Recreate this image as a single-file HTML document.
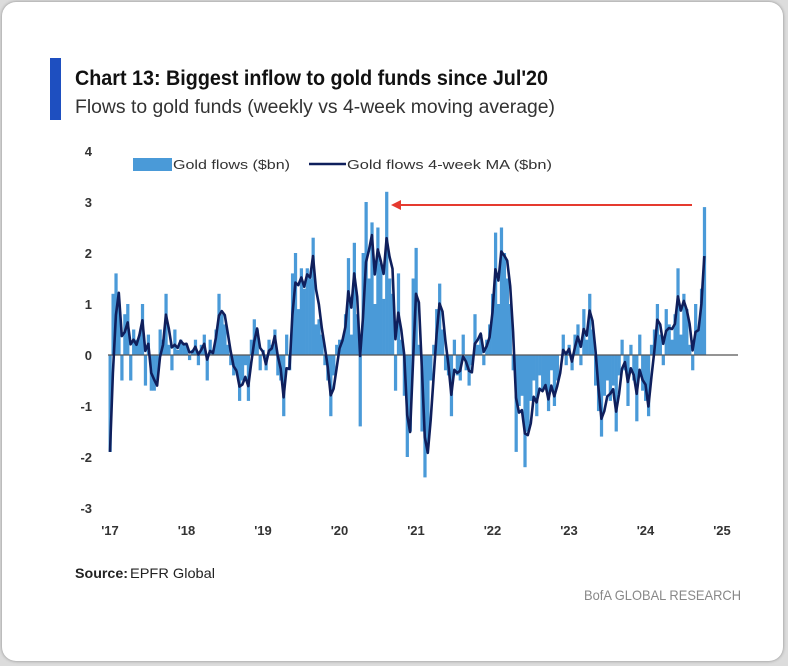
<!DOCTYPE html>
<html><head><meta charset="utf-8">
<style>
html,body{margin:0;padding:0;background:#dcdcdc;}
body{width:788px;height:666px;position:relative;overflow:hidden;font-family:"Liberation Sans",sans-serif;}
#card{position:absolute;left:2px;top:2px;width:781px;height:659px;background:#fff;border-radius:14px;box-shadow:0 0 3px #888;}
svg{position:absolute;left:0;top:0;}
</style></head>
<body>
<div id="card"></div>
<svg id="chart" width="788" height="666">
  <rect x="50" y="58" width="11" height="62" fill="#1e4fc0"/>
  <text x="75" y="85" font-size="21" font-weight="bold" fill="#111" textLength="473" lengthAdjust="spacingAndGlyphs">Chart 13: Biggest inflow to gold funds since Jul'20</text>
  <text x="75" y="113" font-size="19" fill="#333" textLength="480" lengthAdjust="spacingAndGlyphs">Flows to gold funds (weekly vs 4-week moving average)</text>
  <rect x="133" y="158" width="39" height="13" fill="#4a9ad8"/>
  <text x="173" y="169" font-size="13" fill="#333" textLength="117" lengthAdjust="spacingAndGlyphs">Gold flows ($bn)</text>
  <line x1="309" y1="164" x2="346" y2="164" stroke="#0f1f5c" stroke-width="2.5"/>
  <text x="347" y="169" font-size="13" fill="#333" textLength="205" lengthAdjust="spacingAndGlyphs">Gold flows 4-week MA ($bn)</text>
  <g id="yaxis"></g>
  <g id="xaxis"></g>
  <g id="bars"></g>
  <line id="zero" stroke="#555" stroke-width="1.3"/>
  <path id="maLine" fill="none" stroke="#0f1f5c" stroke-width="2.6" stroke-linejoin="round"/>
  <line x1="692" y1="205" x2="398" y2="205" stroke="#e53a2f" stroke-width="2"/>
  <polygon points="391,205 401,200 401,210" fill="#e53a2f"/>
  <text x="75" y="578" font-size="14" fill="#222"><tspan font-weight="bold" textLength="53" lengthAdjust="spacingAndGlyphs">Source:</tspan><tspan dx="2" textLength="85" lengthAdjust="spacingAndGlyphs">EPFR Global</tspan></text>
  <text x="741" y="600" font-size="14" fill="#888" text-anchor="end" textLength="157" lengthAdjust="spacingAndGlyphs">BofA GLOBAL RESEARCH</text>
</svg>
<script>
const yTicks = [4,3,2,1,0,-1,-2,-3];
const yTickLabels = ["4","3","2","1","0","-1","-2","-3"];
const xTickYears = [2017,2018,2019,2020,2021,2022,2023,2024,2025];
const xTickLabels = ["'17","'18","'19","'20","'21","'22","'23","'24","'25"];
const flows2017 = [-1.9,1.2,1.6,1.0,-0.5,0.8,1.0,-0.5,0.5,0.3,0.4,1.0,-0.6,0.4,-0.7,-0.7,-0.5,0.5,0.3,1.2,0.2,-0.3,0.5,0.1,0.3,0.2];
const flows2018 = [0.2,-0.1,0.1,0.3,-0.2,0.2,0.4,-0.5,0.3,0.1,0.5,1.2,0.8,0.6,0.2,-0.2,-0.4,-0.3,-0.9,-0.5,-0.2,-0.9,0.3,0.7,0.5,-0.3];
const flows2019 = [0.1,-0.3,0.3,0.2,0.5,-0.4,-0.5,-1.2,0.4,-0.3,1.6,2.0,0.9,1.7,1.3,1.7,1.5,2.3,0.6,0.7,0.4,-0.2,-0.5,-1.2,-0.4,0.2];
const flows2020 = [0.3,0.3,0.8,1.9,0.4,2.2,0.8,-1.4,2.0,3.0,1.5,2.6,1.0,2.5,1.8,1.1,3.2,1.5,1.2,-0.7,1.6,0.3,-0.8,-2.0,-1.5,1.5];
const flows2021 = [2.1,0.2,-1.5,-2.4,-1.8,-0.5,0.2,0.9,1.4,0.5,-0.3,-0.4,-1.2,0.3,-0.4,-0.5,0.4,-0.3,-0.6,-0.2,0.8,0.2,0.4,-0.2,0.3,0.6];
const flows2022 = [1.2,2.4,1.0,2.5,2.0,1.5,1.0,-0.3,-1.9,-1.0,-0.8,-2.2,-1.5,-0.9,-0.5,-1.2,-0.4,-0.7,-0.6,-1.1,-0.3,-1.0,-0.5,0.0,0.4,-0.2];
const flows2023 = [0.2,-0.3,0.4,0.6,-0.2,0.9,0.3,1.2,0.5,-0.6,-1.1,-1.6,-0.8,-0.5,-0.9,-0.6,-1.5,-0.4,0.3,-0.3,-1.0,0.2,-0.5,-1.3,0.4,-0.7];
const flows2024 = [-0.9,-1.2,0.2,0.5,1.0,0.4,-0.2,0.9,0.6,0.3,0.8,1.7,0.4,1.2,0.9,0.2,-0.3,1.0,0.5,1.3,2.9];

const NS="http://www.w3.org/2000/svg";
const flows=[].concat(flows2017,flows2018,flows2019,flows2020,flows2021,flows2022,flows2023,flows2024);
const perYear=26;
function yS(v){return 355 - v*51;}
function xS(year){return 110 + (year-2017)*76.5;}
function xI(i){return xS(2017 + i/perYear);}
const yg=document.getElementById('yaxis');
yTicks.forEach((t,i)=>{
  const el=document.createElementNS(NS,'text');
  el.setAttribute('x',92);el.setAttribute('y',yS(t)+5);
  el.setAttribute('text-anchor','end');el.setAttribute('font-size','13');
  el.setAttribute('font-weight','bold');el.setAttribute('fill','#333');
  el.textContent=yTickLabels[i];
  
  
  yg.appendChild(el);
});
const xg=document.getElementById('xaxis');
xTickYears.forEach((yr,i)=>{
  const el=document.createElementNS(NS,'text');
  el.setAttribute('x',xS(yr));el.setAttribute('y',535);
  el.setAttribute('text-anchor','middle');el.setAttribute('font-size','13');
  el.setAttribute('font-weight','bold');el.setAttribute('fill','#333');
  el.textContent=xTickLabels[i];
  
  
  xg.appendChild(el);
});
const bg=document.getElementById('bars');
const w=76.5/perYear;
flows.forEach((v,i)=>{
  const r=document.createElementNS(NS,'rect');
  const y0=yS(0), y1=yS(v);
  r.setAttribute('x',xI(i)-w/2);r.setAttribute('width',w+0.3);
  r.setAttribute('y',Math.min(y0,y1));r.setAttribute('height',Math.abs(y1-y0));
  r.setAttribute('fill','#4a9ad8');
  
  
  bg.appendChild(r);
});
const z=document.getElementById('zero');
z.setAttribute('x1',108);z.setAttribute('x2',738);z.setAttribute('y1',yS(0));z.setAttribute('y2',yS(0));
let d='';
flows.forEach((v,i)=>{
  const a=i>0?flows[i-1]:v, b=i>1?flows[i-2]:a;
  const ma=(0.5*v+0.3*a+0.2*b);
  d+=(i?'L':'M')+xI(i).toFixed(1)+','+yS(ma).toFixed(1);
});
document.getElementById('maLine').setAttribute('d',d);
</script>
</body></html>
